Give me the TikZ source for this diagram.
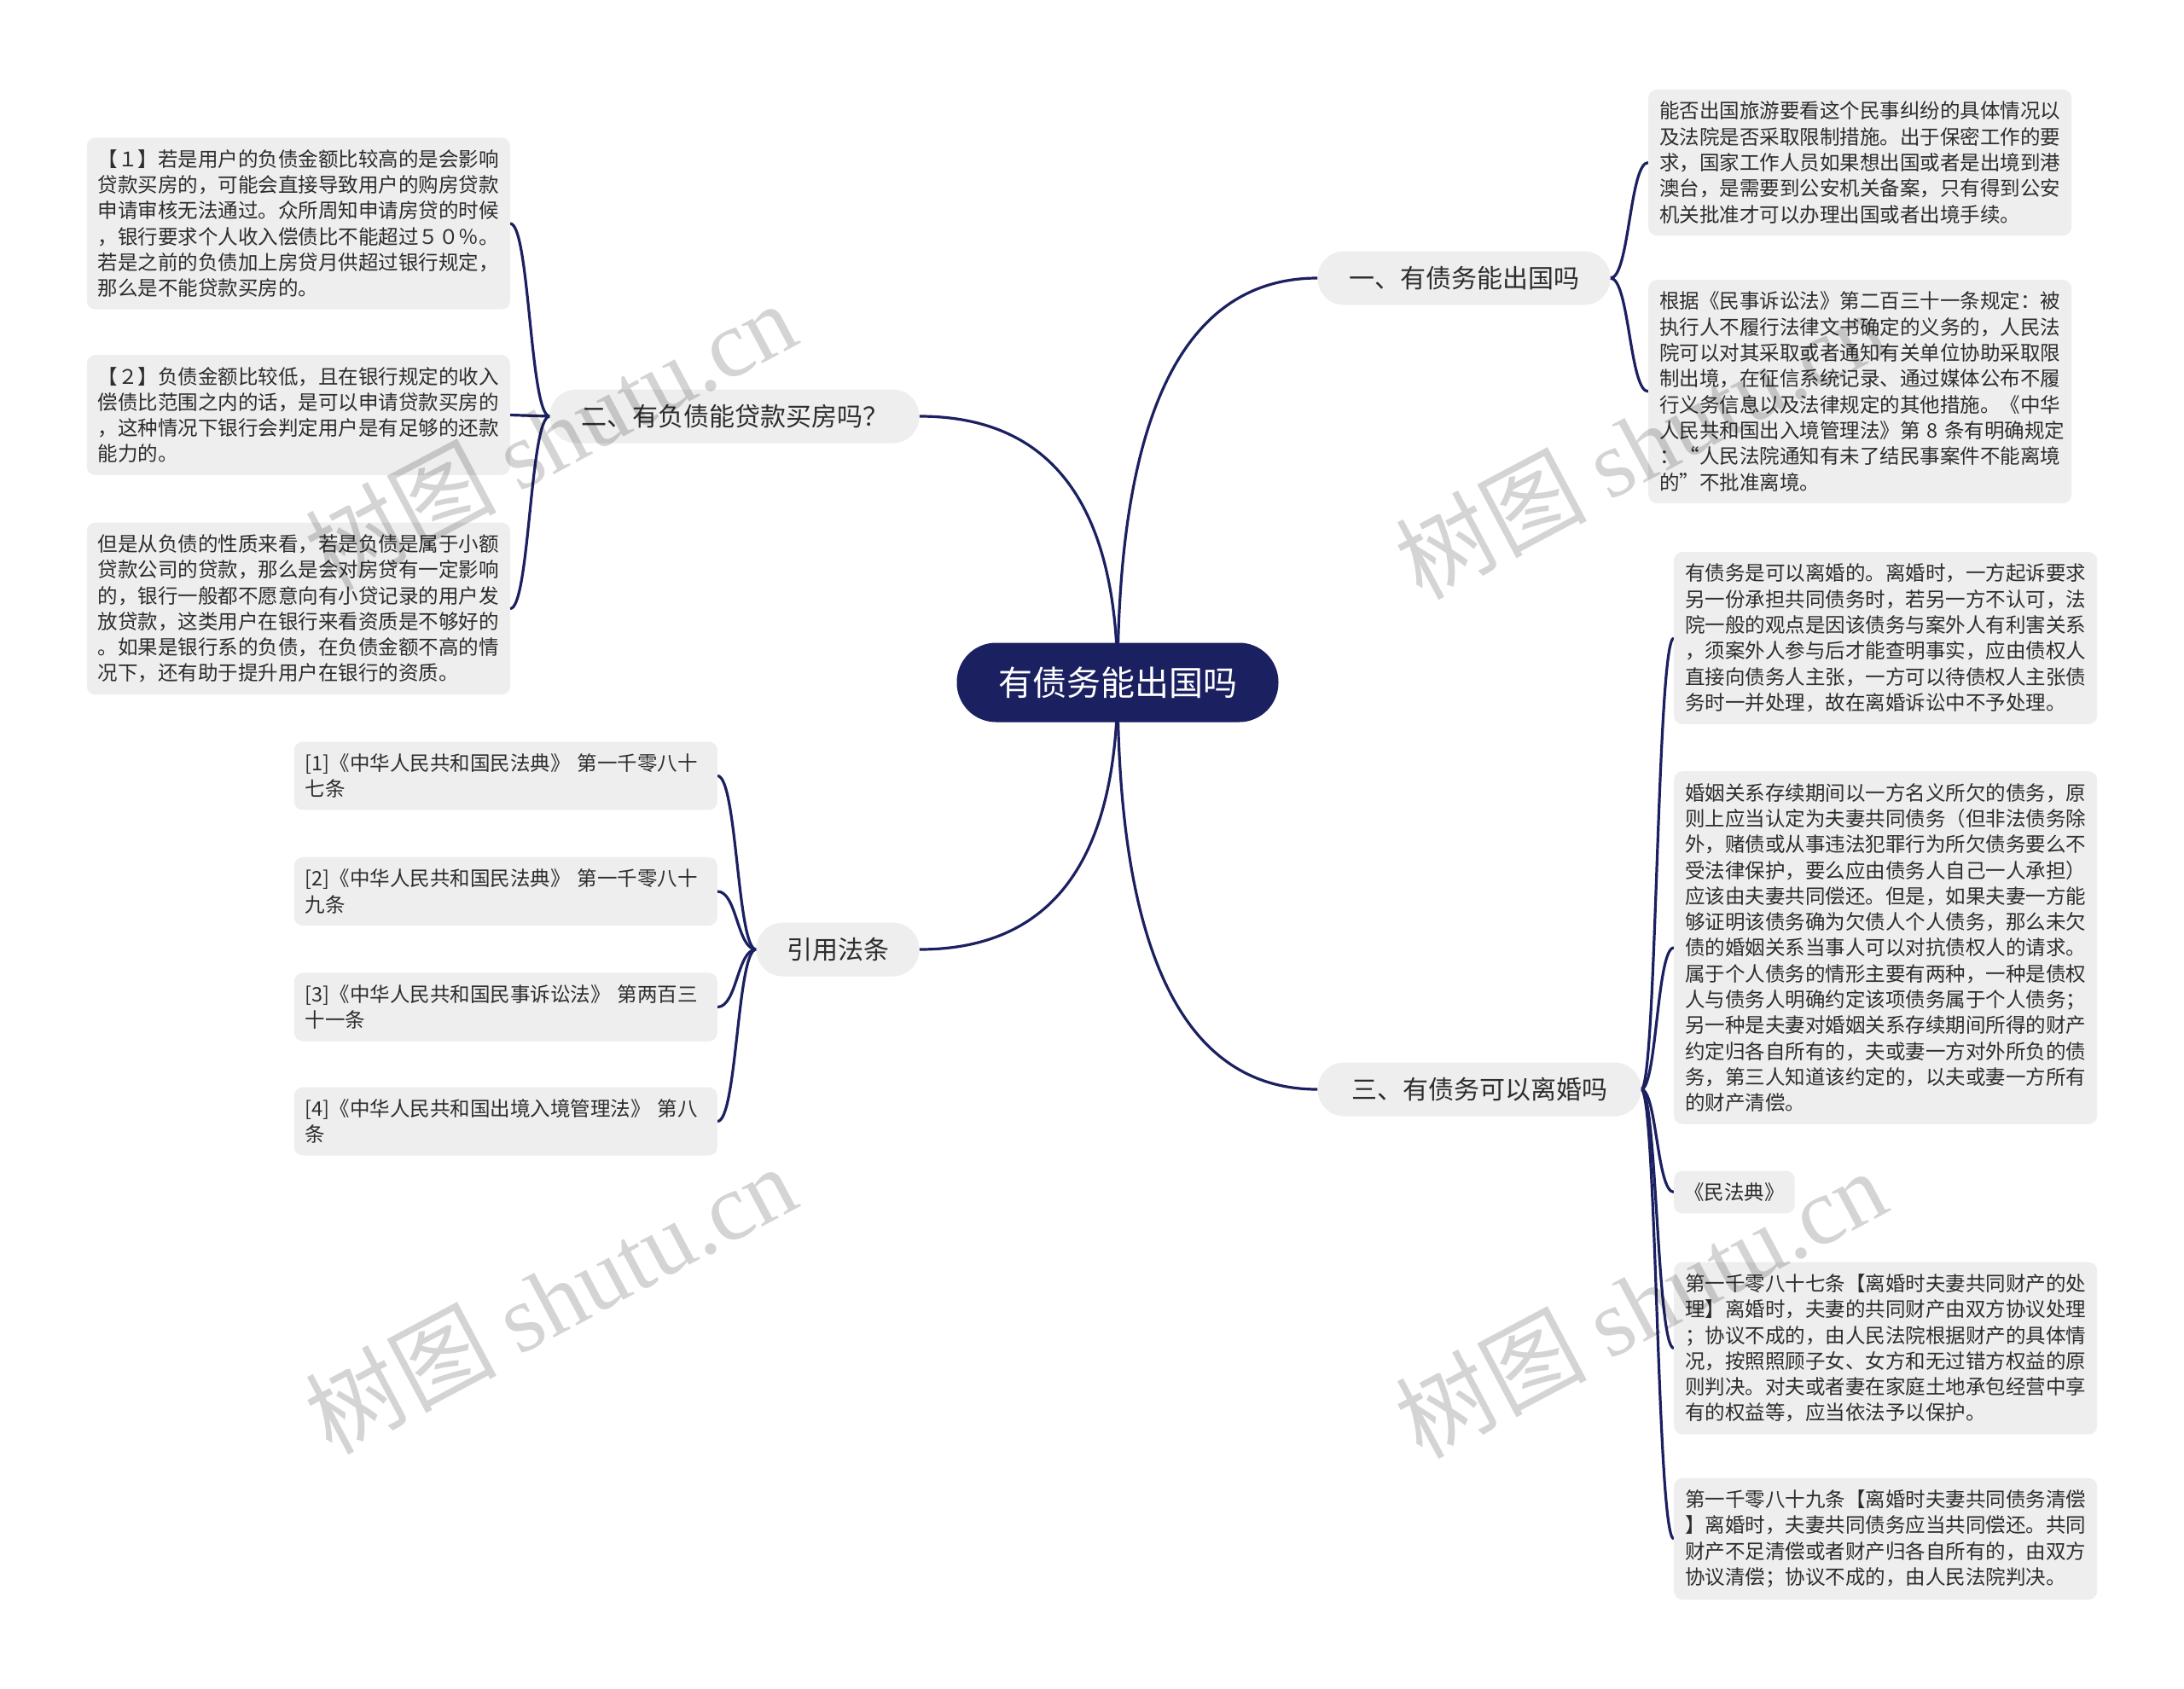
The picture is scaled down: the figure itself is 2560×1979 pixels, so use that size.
\documentclass[tikz,border=0pt]{standalone}
\usepackage{fontspec}
\setmainfont{Noto Sans CJK SC}
\newfontfamily\wmlatin{Liberation Serif}
\usetikzlibrary{backgrounds}
\definecolor{navy}{RGB}{27,32,96}
\definecolor{boxgray}{RGB}{238,238,238}
\definecolor{txt}{RGB}{45,45,45}
\begin{document}
\begin{tikzpicture}[x=1pt,y=-1pt,
  rootbox/.style={fill=navy, text=white, rounded corners=46pt, minimum width=377pt, minimum height=93pt, font=\fontsize{40}{48}\selectfont, inner sep=0pt},
  branchbox/.style={fill=boxgray, text=txt, rounded corners=31pt, minimum height=63pt, font=\fontsize{30}{36}\selectfont, inner sep=0pt},
  leafbox/.style={fill=boxgray, text=txt, rounded corners=10pt, font=\fontsize{23.5}{30.3}\selectfont, align=left, text width=470pt, inner xsep=13pt, inner ysep=14pt},
  smallleaf/.style={fill=boxgray, text=txt, rounded corners=10pt, font=\fontsize{23.5}{30.3}\selectfont, inner xsep=12pt, inner ysep=14pt},
  link/.style={draw=navy, line width=3.2pt},
  wm/.style={text=black, text opacity=0.17, rotate=28, inner sep=0pt, font=\fontsize{112}{112}\selectfont},
]
\useasboundingbox (0,0) rectangle (2560,1979);

% root and branches
\node[rootbox] (root) at (1310,800) {有债务能出国吗};
\node[branchbox, minimum width=343pt] (b1) at (1716,326) {一、有债务能出国吗};
\node[branchbox, minimum width=433pt] (b2) at (861,488) {二、有负债能贷款买房吗？};
\node[branchbox, minimum width=191pt] (b3) at (982,1113) {引用法条};
\node[branchbox, minimum width=379pt] (b4) at (1734,1277) {三、有债务可以离婚吗};

% branch 1 leaves
\node[leafbox, anchor=west] (l1a) at (1932,190.5) {能否出国旅游要看这个民事纠纷的具体情况以\\及法院是否采取限制措施。出于保密工作的要\\求，国家工作人员如果想出国或者是出境到港\\澳台，是需要到公安机关备案，只有得到公安\\机关批准才可以办理出国或者出境手续。};
\node[leafbox, anchor=west] (l1b) at (1932,459) {根据《民事诉讼法》第二百三十一条规定：被\\执行人不履行法律文书确定的义务的，人民法\\院可以对其采取或者通知有关单位协助采取限\\制出境，在征信系统记录、通过媒体公布不履\\行义务信息以及法律规定的其他措施。《中华\\人民共和国出入境管理法》第~8~条有明确规定\\：“人民法院通知有未了结民事案件不能离境\\的”不批准离境。};

% branch 2 leaves
\node[leafbox, anchor=east] (l2a) at (598,262) {【１】若是用户的负债金额比较高的是会影响\\贷款买房的，可能会直接导致用户的购房贷款\\申请审核无法通过。众所周知申请房贷的时候\\，银行要求个人收入偿债比不能超过５０％。\\若是之前的负债加上房贷月供超过银行规定，\\那么是不能贷款买房的。};
\node[leafbox, anchor=east] (l2b) at (598,486.5) {【２】负债金额比较低，且在银行规定的收入\\偿债比范围之内的话，是可以申请贷款买房的\\，这种情况下银行会判定用户是有足够的还款\\能力的。};
\node[leafbox, anchor=east] (l2c) at (598,713.5) {但是从负债的性质来看，若是负债是属于小额\\贷款公司的贷款，那么是会对房贷有一定影响\\的，银行一般都不愿意向有小贷记录的用户发\\放贷款，这类用户在银行来看资质是不够好的\\。如果是银行系的负债，在负债金额不高的情\\况下，还有助于提升用户在银行的资质。};

% branch 3 leaves
\node[leafbox, anchor=east] (l3a) at (841,909.5) {[1]《中华人民共和国民法典》~第一千零八十\\七条};
\node[leafbox, anchor=east] (l3b) at (841,1045) {[2]《中华人民共和国民法典》~第一千零八十\\九条};
\node[leafbox, anchor=east] (l3c) at (841,1180.5) {[3]《中华人民共和国民事诉讼法》~第两百三\\十一条};
\node[leafbox, anchor=east] (l3d) at (841,1314.5) {[4]《中华人民共和国出境入境管理法》~第八\\条};

% branch 4 leaves
\node[leafbox, anchor=west] (l4a) at (1962,748) {有债务是可以离婚的。离婚时，一方起诉要求\\另一份承担共同债务时，若另一方不认可，法\\院一般的观点是因该债务与案外人有利害关系\\，须案外人参与后才能查明事实，应由债权人\\直接向债务人主张，一方可以待债权人主张债\\务时一并处理，故在离婚诉讼中不予处理。};
\node[leafbox, anchor=west] (l4b) at (1962,1111) {婚姻关系存续期间以一方名义所欠的债务，原\\则上应当认定为夫妻共同债务（但非法债务除\\外，赌债或从事违法犯罪行为所欠债务要么不\\受法律保护，要么应由债务人自己一人承担）\\应该由夫妻共同偿还。但是，如果夫妻一方能\\够证明该债务确为欠债人个人债务，那么未欠\\债的婚姻关系当事人可以对抗债权人的请求。\\属于个人债务的情形主要有两种，一种是债权\\人与债务人明确约定该项债务属于个人债务；\\另一种是夫妻对婚姻关系存续期间所得的财产\\约定归各自所有的，夫或妻一方对外所负的债\\务，第三人知道该约定的，以夫或妻一方所有\\的财产清偿。};
\node[smallleaf, anchor=west] (l4c) at (1962,1397.5) {《民法典》};
\node[leafbox, anchor=west] (l4d) at (1962,1580.5) {第一千零八十七条【离婚时夫妻共同财产的处\\理】离婚时，夫妻的共同财产由双方协议处理\\；协议不成的，由人民法院根据财产的具体情\\况，按照照顾子女、女方和无过错方权益的原\\则判决。对夫或者妻在家庭土地承包经营中享\\有的权益等，应当依法予以保护。};
\node[leafbox, anchor=west] (l4e) at (1962,1804) {第一千零八十九条【离婚时夫妻共同债务清偿\\】离婚时，夫妻共同债务应当共同偿还。共同\\财产不足清偿或者财产归各自所有的，由双方\\协议清偿；协议不成的，由人民法院判决。};

\begin{scope}[on background layer]
\fill[white] (0,0) rectangle (2560,1979);
% root to branches
\draw[link] (root.center) .. controls (1310,484) and (1388,326) .. (b1.west);
\draw[link] (root.center) .. controls (1310,592) and (1233,488) .. (b2.east);
\draw[link] (root.center) .. controls (1310,1009) and (1233,1113) .. (b3.east);
\draw[link] (root.center) .. controls (1310,1118) and (1388,1277) .. (b4.west);
% branch 1
\draw[link] (b1.east) .. controls (1910,326) and (1910,190.5) .. (l1a.west);
\draw[link] (b1.east) .. controls (1910,326) and (1910,459) .. (l1b.west);
% branch 2
\draw[link] (b2.west) .. controls (621,488) and (621,262) .. (l2a.east);
\draw[link] (b2.west) .. controls (621,488) and (621,486.5) .. (l2b.east);
\draw[link] (b2.west) .. controls (621,488) and (621,713.5) .. (l2c.east);
% branch 3
\draw[link] (b3.west) .. controls (864,1113) and (864,909.5) .. (l3a.east);
\draw[link] (b3.west) .. controls (864,1113) and (864,1045) .. (l3b.east);
\draw[link] (b3.west) .. controls (864,1113) and (864,1180.5) .. (l3c.east);
\draw[link] (b3.west) .. controls (864,1113) and (864,1314.5) .. (l3d.east);
% branch 4
\draw[link] (b4.east) .. controls (1942,1277) and (1942,748) .. (l4a.west);
\draw[link] (b4.east) .. controls (1942,1277) and (1942,1111) .. (l4b.west);
\draw[link] (b4.east) .. controls (1942,1277) and (1942,1397.5) .. (l4c.west);
\draw[link] (b4.east) .. controls (1942,1277) and (1942,1580.5) .. (l4d.west);
\draw[link] (b4.east) .. controls (1942,1277) and (1942,1804) .. (l4e.west);
\end{scope}

% watermarks
\node[wm] (wm1) at (645,510) {树图 {\wmlatin shutu.cn}};
\node[wm] (wm2) at (1923,520) {树图 {\wmlatin shutu.cn}};
\node[wm] (wm3) at (645,1522) {树图 {\wmlatin shutu.cn}};
\node[wm] (wm4) at (1923,1527) {树图 {\wmlatin shutu.cn}};
\end{tikzpicture}
\end{document}
